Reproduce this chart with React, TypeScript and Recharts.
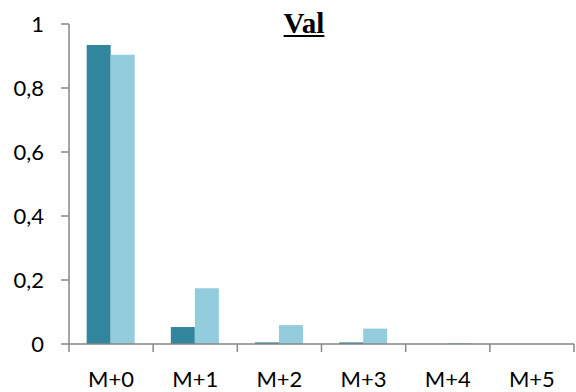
import React from "react";
import { BarChart, Bar, XAxis, YAxis } from "recharts";

const categories = ["M+0", "M+1", "M+2", "M+3", "M+4", "M+5"];
const seriesA = [0.934, 0.053, 0.005, 0.005, 0, 0];
const seriesB = [0.904, 0.174, 0.059, 0.048, 0.003, 0];
const yTicks = [0, 0.2, 0.4, 0.6, 0.8, 1];

const data = categories.map((c, i) => ({ cat: c, a: seriesA[i], b: seriesB[i] }));

const W = 576;
const H = 392;
const MARGIN = { top: 24, right: 2, left: 0, bottom: 0 };
const Y_W = 69;
const PLOT_W = W - Y_W - MARGIN.left - MARGIN.right;
const BAND = PLOT_W / categories.length;
const X_MARGIN = 27;
const TICK = 8;
const AXIS_COLOR = "#868686";

const FONT = "Lato";
const FS = 22;

const XTick = (props: any) => {
  const axisY = props.y - X_MARGIN;
  const left = props.x - BAND / 2;
  const right = props.x + BAND / 2;
  const last = props.index === categories.length - 1;
  return (
    <g>
      <line x1={left} x2={left} y1={axisY} y2={axisY + TICK} stroke={AXIS_COLOR} strokeWidth={1.5} />
      {last && <line x1={right} x2={right} y1={axisY} y2={axisY + TICK} stroke={AXIS_COLOR} strokeWidth={1.5} />}
      <text x={props.x} y={props.y} dy="0.71em" textAnchor="middle" fontFamily={FONT} fontSize={FS} fill="#000">
        {props.payload.value}
      </text>
    </g>
  );
};

const YTick = (props: any) => (
  <text x={props.x} y={props.y} dy="0.355em" textAnchor="end" fontFamily={FONT} fontSize={FS} fill="#000">
    {String(props.payload.value).replace(".", ",")}
  </text>
);

export default function App() {
  return (
    <div style={{ position: "absolute", left: 0, top: 0, width: W, height: H, background: "#fff" }}>
      <BarChart width={W} height={H} data={data} margin={MARGIN} barCategoryGap="21%" barGap={0}>
        <XAxis
          dataKey="cat"
          height={48}
          axisLine={{ stroke: AXIS_COLOR, strokeWidth: 1.5 }}
          tickLine={false}
          tickSize={0}
          tickMargin={X_MARGIN}
          tick={<XTick />}
          interval={0}
        />
        <YAxis
          width={Y_W}
          domain={[0, 1]}
          ticks={yTicks}
          tickSize={TICK}
          tickMargin={17}
          tick={<YTick />}
          stroke={AXIS_COLOR}
          strokeWidth={1.5}
        />
        <Bar dataKey="a" fill="#31859C" isAnimationActive={false} />
        <Bar dataKey="b" fill="#93CDDD" isAnimationActive={false} />
      </BarChart>
      <div
        style={{
          position: "absolute",
          left: 254,
          width: 100,
          top: 9,
          textAlign: "center",
          fontFamily: "'Liberation Serif'",
          fontWeight: "bold",
          fontSize: 29,
          lineHeight: "29px",
          textDecoration: "underline",
          color: "#000",
        }}
      >
        Val
      </div>
    </div>
  );
}
